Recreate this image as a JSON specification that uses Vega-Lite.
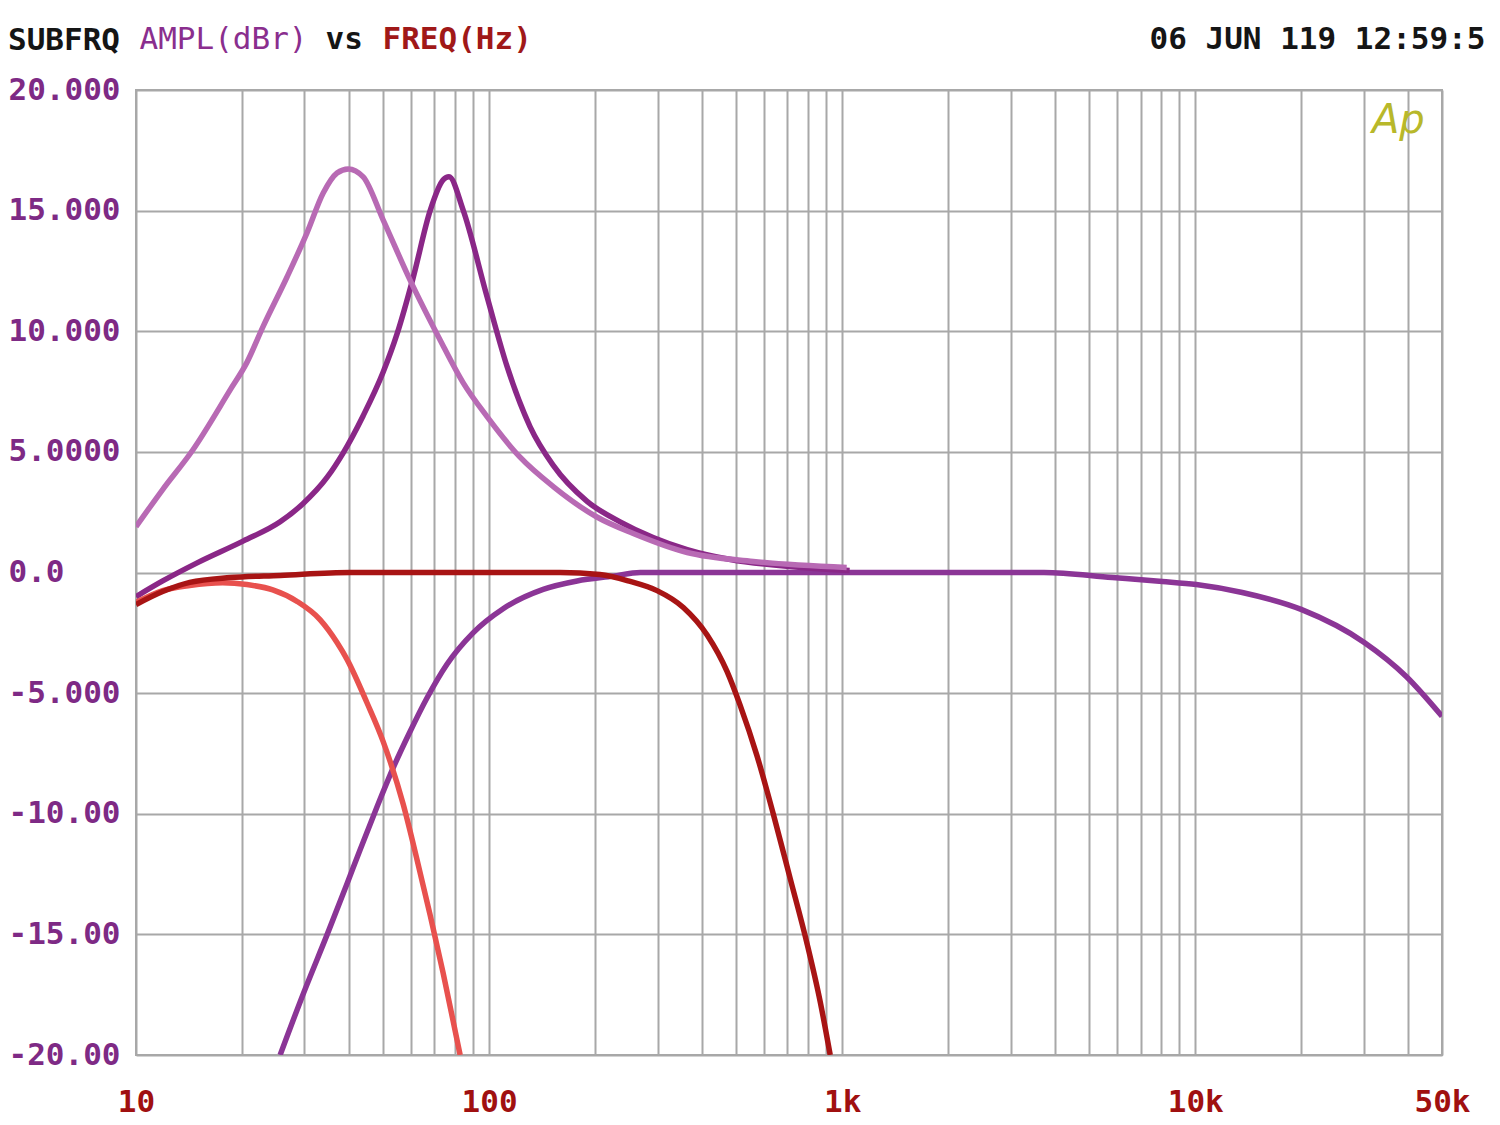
{
  "$schema": "https://vega.github.io/schema/vega-lite/v6.json",
  "width": 1306,
  "height": 965,
  "autosize": {"type": "none"},
  "padding": {"left": 136, "top": 90, "right": 58, "bottom": 70},
  "background": "white",
  "config": {
    "view": {"stroke": "#a8a8a8", "strokeWidth": 2},
    "font": "DejaVu Sans Mono"
  },
  "title": {
    "text": "SUBFRQ",
    "anchor": "start",
    "frame": "group",
    "dx": -128,
    "dy": 58,
    "offset": 0,
    "baseline": "alphabetic",
    "font": "DejaVu Sans Mono",
    "fontSize": 31,
    "fontWeight": "bold",
    "color": "#151515"
  },
  "datasets": {
    "curves": [
      {"s": "E", "f": 25.6, "db": -20.0},
      {"s": "E", "f": 29.7, "db": -17.5},
      {"s": "E", "f": 34.8, "db": -15.0},
      {"s": "E", "f": 39.6, "db": -12.9},
      {"s": "E", "f": 43.1, "db": -11.5},
      {"s": "E", "f": 48.2, "db": -9.7},
      {"s": "E", "f": 53.5, "db": -8.1},
      {"s": "E", "f": 59.7, "db": -6.6},
      {"s": "E", "f": 66.7, "db": -5.2},
      {"s": "E", "f": 76.0, "db": -3.8},
      {"s": "E", "f": 90.1, "db": -2.5},
      {"s": "E", "f": 109.6, "db": -1.5},
      {"s": "E", "f": 142.3, "db": -0.7},
      {"s": "E", "f": 177.6, "db": -0.35},
      {"s": "E", "f": 224.5, "db": -0.15},
      {"s": "E", "f": 268, "db": 0.0},
      {"s": "E", "f": 500, "db": 0.0},
      {"s": "E", "f": 1000, "db": 0.0},
      {"s": "E", "f": 2000, "db": 0.0},
      {"s": "E", "f": 3730, "db": 0.0},
      {"s": "E", "f": 5820, "db": -0.21},
      {"s": "E", "f": 8070, "db": -0.37},
      {"s": "E", "f": 10070, "db": -0.50},
      {"s": "E", "f": 13590, "db": -0.83},
      {"s": "E", "f": 19950, "db": -1.53},
      {"s": "E", "f": 30120, "db": -2.90},
      {"s": "E", "f": 39600, "db": -4.31},
      {"s": "E", "f": 50000, "db": -5.96},

      {"s": "B", "f": 10, "db": -1.0},
      {"s": "B", "f": 11.9, "db": -0.35},
      {"s": "B", "f": 14.9, "db": 0.4},
      {"s": "B", "f": 20.1, "db": 1.3},
      {"s": "B", "f": 25.6, "db": 2.1},
      {"s": "B", "f": 29.7, "db": 2.85},
      {"s": "B", "f": 34.8, "db": 3.95},
      {"s": "B", "f": 38.6, "db": 4.95},
      {"s": "B", "f": 44.0, "db": 6.5},
      {"s": "B", "f": 50.1, "db": 8.3},
      {"s": "B", "f": 54.9, "db": 9.9},
      {"s": "B", "f": 60.9, "db": 12.2},
      {"s": "B", "f": 68.1, "db": 15.0},
      {"s": "B", "f": 74.1, "db": 16.27},
      {"s": "B", "f": 77.0, "db": 16.40},
      {"s": "B", "f": 84.4, "db": 15.03},
      {"s": "B", "f": 98.7, "db": 11.43},
      {"s": "B", "f": 112.5, "db": 8.53},
      {"s": "B", "f": 130.6, "db": 6.05},
      {"s": "B", "f": 151.8, "db": 4.45},
      {"s": "B", "f": 189.5, "db": 2.95},
      {"s": "B", "f": 235, "db": 2.1},
      {"s": "B", "f": 291.5, "db": 1.45},
      {"s": "B", "f": 364, "db": 0.95},
      {"s": "B", "f": 482, "db": 0.54},
      {"s": "B", "f": 713, "db": 0.25},
      {"s": "B", "f": 1050, "db": 0.08},

      {"s": "A", "f": 10, "db": 1.90},
      {"s": "A", "f": 11.9, "db": 3.44},
      {"s": "A", "f": 14.5, "db": 5.09},
      {"s": "A", "f": 18.5, "db": 7.58},
      {"s": "A", "f": 20.6, "db": 8.70},
      {"s": "A", "f": 22.9, "db": 10.19},
      {"s": "A", "f": 26.8, "db": 12.26},
      {"s": "A", "f": 30.5, "db": 14.08},
      {"s": "A", "f": 33.9, "db": 15.73},
      {"s": "A", "f": 37.1, "db": 16.56},
      {"s": "A", "f": 39.9, "db": 16.73},
      {"s": "A", "f": 44.0, "db": 16.40},
      {"s": "A", "f": 50.1, "db": 14.62},
      {"s": "A", "f": 59.7, "db": 12.13},
      {"s": "A", "f": 72.6, "db": 9.65},
      {"s": "A", "f": 84.4, "db": 7.87},
      {"s": "A", "f": 98.7, "db": 6.46},
      {"s": "A", "f": 122, "db": 4.80},
      {"s": "A", "f": 152, "db": 3.56},
      {"s": "A", "f": 202, "db": 2.3},
      {"s": "A", "f": 256, "db": 1.62},
      {"s": "A", "f": 364, "db": 0.83},
      {"s": "A", "f": 560, "db": 0.46},
      {"s": "A", "f": 1030, "db": 0.21},

      {"s": "D", "f": 10, "db": -1.24},
      {"s": "D", "f": 11.9, "db": -0.75},
      {"s": "D", "f": 14.2, "db": -0.54},
      {"s": "D", "f": 17.6, "db": -0.43},
      {"s": "D", "f": 20.6, "db": -0.50},
      {"s": "D", "f": 24.4, "db": -0.72},
      {"s": "D", "f": 28.6, "db": -1.2},
      {"s": "D", "f": 33.2, "db": -1.95},
      {"s": "D", "f": 37.1, "db": -2.9},
      {"s": "D", "f": 39.6, "db": -3.6},
      {"s": "D", "f": 45.1, "db": -5.4},
      {"s": "D", "f": 50.1, "db": -7.0},
      {"s": "D", "f": 57.1, "db": -9.6},
      {"s": "D", "f": 62.5, "db": -11.9},
      {"s": "D", "f": 68.1, "db": -14.2},
      {"s": "D", "f": 74.1, "db": -16.6},
      {"s": "D", "f": 81.2, "db": -19.4},
      {"s": "D", "f": 82.8, "db": -20.0},

      {"s": "C", "f": 10, "db": -1.33},
      {"s": "C", "f": 11.9, "db": -0.79},
      {"s": "C", "f": 14.2, "db": -0.41},
      {"s": "C", "f": 18.5, "db": -0.21},
      {"s": "C", "f": 25.6, "db": -0.12},
      {"s": "C", "f": 40.4, "db": 0.0},
      {"s": "C", "f": 80, "db": 0.0},
      {"s": "C", "f": 159, "db": 0.0},
      {"s": "C", "f": 206, "db": -0.08},
      {"s": "C", "f": 251, "db": -0.37},
      {"s": "C", "f": 299, "db": -0.75},
      {"s": "C", "f": 355, "db": -1.45},
      {"s": "C", "f": 415, "db": -2.6},
      {"s": "C", "f": 472, "db": -4.1},
      {"s": "C", "f": 514, "db": -5.5},
      {"s": "C", "f": 574, "db": -7.6},
      {"s": "C", "f": 638, "db": -10.0},
      {"s": "C", "f": 713, "db": -12.7},
      {"s": "C", "f": 796, "db": -15.4},
      {"s": "C", "f": 867, "db": -17.8},
      {"s": "C", "f": 925, "db": -20.0}
    ],
    "logo": [{"f": 37600, "db": 18.7, "t": "Ap"}]
  },
  "resolve": {"axis": {"x": "independent", "y": "independent"}},
  "layer": [
    {
      "data": {"name": "curves"},
      "mark": {"type": "line", "strokeWidth": 5.5, "clip": true, "interpolate": "monotone"},
      "encoding": {
        "x": {
          "field": "f",
          "type": "quantitative",
          "scale": {"type": "log", "domain": [10, 50000], "nice": false},
          "axis": {
            "orient": "bottom",
            "values": [10, 20, 30, 40, 50, 60, 70, 80, 90, 100, 200, 300, 400, 500, 600, 700, 800, 900, 1000, 2000, 3000, 4000, 5000, 6000, 7000, 8000, 9000, 10000, 20000, 30000, 40000, 50000],
            "labelExpr": "datum.value == 10 ? '10' : datum.value == 100 ? '100' : datum.value == 1000 ? '1k' : datum.value == 10000 ? '10k' : datum.value == 50000 ? '50k' : ''",
            "grid": true,
            "gridColor": "#a8a8a8",
            "gridWidth": 2,
            "gridOpacity": 1,
            "ticks": false,
            "tickSize": 0,
            "domain": false,
            "labelFont": "DejaVu Sans Mono",
            "labelFontSize": 31,
            "labelFontWeight": "bold",
            "labelColor": "#a01010",
            "labelPadding": 47,
            "labelBaseline": "middle",
            "labelOverlap": false,
            "labelFlush": false,
            "labelBound": false,
            "title": "FREQ(Hz)",
            "titleX": 246,
            "titleY": -1007,
            "titleAngle": 0,
            "titleAlign": "left",
            "titleAnchor": null,
            "titleBaseline": "alphabetic",
            "titleFont": "DejaVu Sans Mono",
            "titleFontSize": 31,
            "titleFontWeight": "bold",
            "titleColor": "#a01818"
          }
        },
        "y": {
          "field": "db",
          "type": "quantitative",
          "scale": {"domain": [-20, 20], "nice": false, "zero": false},
          "axis": {
            "orient": "left",
            "values": [-20, -15, -10, -5, 0, 5, 10, 15, 20],
            "labelExpr": "datum.value == 20 ? '20.000' : datum.value == 15 ? '15.000' : datum.value == 10 ? '10.000' : datum.value == 5 ? '5.0000' : datum.value == 0 ? '0.0' : datum.value == -5 ? '-5.000' : datum.value == -10 ? '-10.00' : datum.value == -15 ? '-15.00' : '-20.00'",
            "grid": true,
            "gridColor": "#a8a8a8",
            "gridWidth": 2,
            "gridOpacity": 1,
            "ticks": false,
            "tickSize": 0,
            "domain": false,
            "labelFont": "DejaVu Sans Mono",
            "labelFontSize": 31,
            "labelFontWeight": "bold",
            "labelColor": "#7e2a85",
            "labelAlign": "left",
            "labelBaseline": "middle",
            "labelPadding": 128,
            "labelOverlap": false,
            "labelFlush": false,
            "labelBound": false,
            "title": "AMPL(dBr)",
            "titleX": 3,
            "titleY": -42,
            "titleAngle": 0,
            "titleAlign": "left",
            "titleAnchor": null,
            "titleBaseline": "alphabetic",
            "titleFont": "DejaVu Sans Mono",
            "titleFontSize": 31,
            "titleFontWeight": "normal",
            "titleColor": "#8a2e8e"
          }
        },
        "color": {
          "field": "s",
          "type": "nominal",
          "sort": ["E", "B", "A", "D", "C"],
          "scale": {"domain": ["E", "B", "A", "D", "C"], "range": ["#8b3596", "#8a2787", "#b86ab4", "#e8514e", "#a81414"]},
          "legend": null
        }
      }
    },
    {
      "data": {"name": "logo"},
      "mark": {"type": "text", "font": "DejaVu Sans", "fontStyle": "italic", "fontWeight": "normal", "fontSize": 40, "color": "#b8b82a"},
      "encoding": {
        "x": {
          "field": "f",
          "type": "quantitative",
          "scale": {"type": "log", "domain": [10, 50000], "nice": false},
          "axis": {
            "orient": "top",
            "labels": false,
            "grid": false,
            "ticks": false,
            "domain": false,
            "title": "vs",
            "titleX": 189,
            "titleY": -42,
            "titleAngle": 0,
            "titleAlign": "left",
            "titleAnchor": null,
            "titleBaseline": "alphabetic",
            "titleFont": "DejaVu Sans Mono",
            "titleFontSize": 31,
            "titleFontWeight": "bold",
            "titleColor": "#151515"
          }
        },
        "y": {
          "field": "db",
          "type": "quantitative",
          "scale": {"domain": [-20, 20], "nice": false, "zero": false},
          "axis": {
            "orient": "right",
            "labels": false,
            "grid": false,
            "ticks": false,
            "domain": false,
            "title": "06 JUN 119 12:59:5",
            "titleX": -293,
            "titleY": -42,
            "titleAngle": 0,
            "titleAlign": "left",
            "titleAnchor": null,
            "titleBaseline": "alphabetic",
            "titleFont": "DejaVu Sans Mono",
            "titleFontSize": 31,
            "titleFontWeight": "bold",
            "titleColor": "#151515"
          }
        },
        "text": {"field": "t"}
      }
    }
  ]
}
